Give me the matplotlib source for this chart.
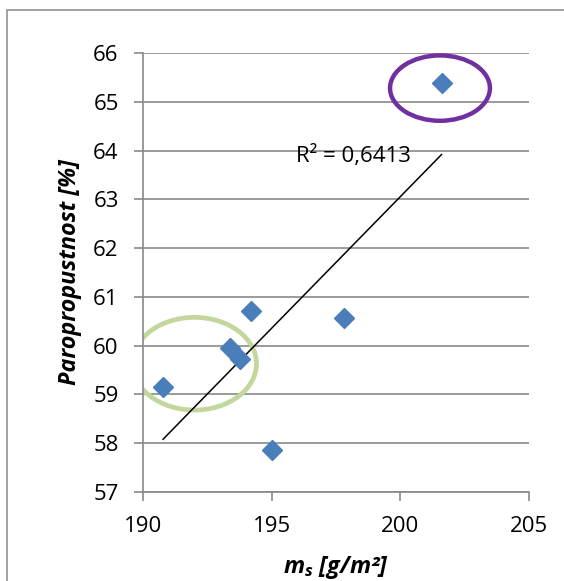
import numpy as np
import matplotlib
matplotlib.use("Agg")
import matplotlib.pyplot as plt
from matplotlib.patches import Ellipse, Rectangle

# plošná hmotnost a paropropustnost vzorků
ms = [190.78, 193.39, 193.78, 194.19, 195.0, 197.81, 201.6]
paropropustnost = [59.16, 59.95, 59.72, 60.71, 57.86, 60.56, 65.38]
r2_text = "R² = 0,6413"

x_ticks = [190, 195, 200, 205]
y_ticks = [57, 58, 59, 60, 61, 62, 63, 64, 65, 66]

plt.rcParams['font.family'] = ['Open Sans', 'DejaVu Sans']
plt.rcParams['mathtext.fontset'] = 'custom'
plt.rcParams['mathtext.bfit'] = 'Open Sans:italic:bold'

fig = plt.figure(figsize=(5.64, 5.81), dpi=100)
ax = fig.add_axes([0.2535, 0.1532, 0.6845, 0.7556])

grey = '#898989'

# rámeček grafu
fig.patches.append(Rectangle((6.5 / 564, -0.05), 1.1, 1 - 10.4 / 581 + 0.05,
                             transform=fig.transFigure, fill=False,
                             edgecolor=grey, linewidth=1.1))

ax.set_xlim(190, 205)
ax.set_ylim(57, 66)
ax.set_xticks(x_ticks)
ax.set_yticks(y_ticks)
ax.grid(axis='y', color=grey, linewidth=1.2)
ax.set_axisbelow(True)
for side in ['top', 'right']:
    ax.spines[side].set_visible(False)
for side in ['left', 'bottom']:
    ax.spines[side].set_color(grey)
    ax.spines[side].set_linewidth(1.2)
ax.tick_params(length=6.5, width=1.2, color=grey, pad=11, labelsize=16)

# spojnice trendu (lineární)
k, q = np.polyfit(ms, paropropustnost, 1)
xt = np.array([min(ms), max(ms)])
ax.plot(xt, k * xt + q, color='black', linewidth=1.1, zorder=3)

ax.plot(ms, paropropustnost, linestyle='none', marker='D', markersize=10,
        markerfacecolor='#4a7ebb', markeredgecolor='#4a7ebb', zorder=4)

ax.text(195.94, 63.88, r2_text, fontsize=16, ha='left', va='center')

# zvýrazněné skupiny
ax.add_patch(Ellipse((192.0, 59.63), 4.82, 1.9, fill=False,
                     edgecolor='#c3d69b', linewidth=3.4, zorder=2))
ax.add_patch(Ellipse((201.54, 65.28), 3.88, 1.34, fill=False,
                     edgecolor='#7030a0', linewidth=3.2, zorder=5))

ax.set_ylabel('Paropropustnost [%]', fontsize=16.8, fontweight='bold',
              fontstyle='italic', labelpad=8)
ax.set_xlabel(r'$\mathbfit{m}_{\mathbfit{s}}$ [g/m²]', fontsize=16.8,
              fontweight='bold', fontstyle='italic', labelpad=12)

fig.savefig('out.png', dpi=100)
